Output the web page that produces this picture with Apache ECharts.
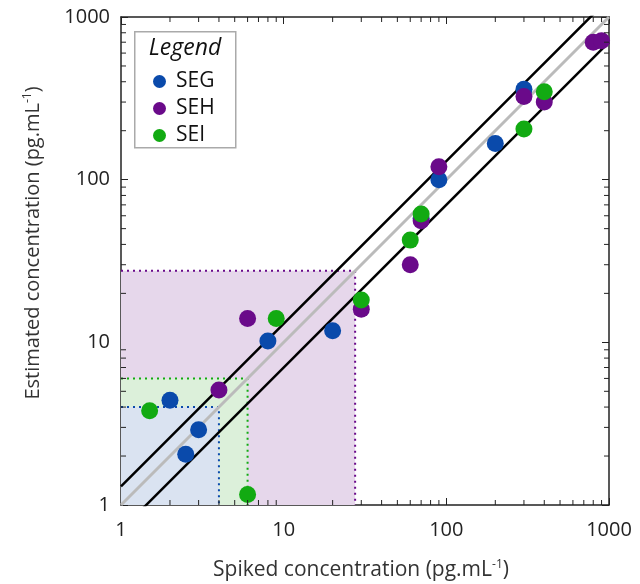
<!DOCTYPE html>
<html>
<head>
<meta charset="utf-8">
<script src="https://cdn.jsdelivr.net/npm/echarts@6/dist/echarts.min.js"></script>
<style>
  html, body { margin: 0; padding: 0; background: #fff; }
  #chart { width: 640px; height: 584px; }
</style>
</head>
<body>
<div id="chart"></div>
<script>
var chartDom = document.getElementById('chart');
var myChart = echarts.init(chartDom, null, { renderer: 'canvas' });
var option;

// spiked (x) vs estimated (y), pg/mL
var segData = [[2, 4.4], [2.5, 2.05], [3, 2.9], [8, 10.2], [20, 11.8], [70, 58], [90, 100], [200, 167], [300, 360]];
var sehData = [[4, 5.1], [6, 14], [30, 16], [60, 30], [70, 56], [90, 120], [300, 325], [400, 300], [800, 700], [900, 715]];
var seiData = [[1.5, 3.8], [6, 1.16], [9, 14], [30, 18.2], [60, 42.5], [70, 61.5], [300, 205], [400, 347]];

// reference lines: 1:1 and +/-30 %
var identityLine = [[1, 1], [1000, 1000]];
var upperLine = [[1, 1.3], [1000, 1300]];
var lowerLine = [[1, 0.7], [1000, 700]];

// shaded limit boxes
var segLimit = 4;
var seiLimit = 6;
var sehLimit = 27.5;

var minorTicks = [2, 3, 4, 5, 6, 7, 8, 9, 20, 30, 40, 50, 60, 70, 80, 90, 200, 300, 400, 500, 600, 700, 800, 900];

var FONT = 'Open Sans';
var cBlue = '#0a4aab', cPurple = '#6a0a8a', cGreen = '#12aa12';

function boxSeries(lim, fill, stroke, z) {
    return {
        type: 'line',
        data: [[1, lim], [lim, lim], [lim, 1]],
        symbol: 'none',
        silent: true,
        z: z,
        lineStyle: { color: stroke, width: 2, type: [2, 4] },
        markArea: {
            silent: true,
            itemStyle: { color: fill },
            data: [[{ coord: [1, 1] }, { coord: [lim, lim] }]]
        }
    };
}

function refLine(data, color, width) {
    return {
        type: 'line',
        data: data,
        symbol: 'none',
        silent: true,
        z: 5,
        lineStyle: { color: color, width: width }
    };
}

// minor ticks drawn as thin marks placed on each border
function minorSeries(side) {
    var data, size, offset;
    if (side === 'bottom') {
        data = minorTicks.map(function (v) { return [v, 1]; });
        size = [1, 5]; offset = [0, -2.5];
    } else if (side === 'top') {
        data = minorTicks.map(function (v) { return [v, 1000]; });
        size = [1, 5]; offset = [0, 2.5];
    } else if (side === 'left') {
        data = minorTicks.map(function (v) { return [1, v]; });
        size = [5, 1]; offset = [2.5, 0];
    } else {
        data = minorTicks.map(function (v) { return [1000, v]; });
        size = [5, 1]; offset = [-2.5, 0];
    }
    return {
        type: 'scatter',
        data: data,
        symbol: 'rect',
        symbolSize: size,
        symbolOffset: offset,
        clip: false,
        silent: true,
        z: 20,
        itemStyle: { color: '#222', opacity: 1 }
    };
}

function logAxis(pos, showLabel) {
    return {
        type: 'log',
        logBase: 10,
        min: 1,
        max: 1000,
        interval: 1,
        position: pos,
        splitLine: { show: false },
        axisLine: { show: true, onZero: false, lineStyle: { color: '#222', width: 1.5 } },
        axisTick: { show: true, inside: true, length: 7, lineStyle: { color: '#222', width: 1 } },
        axisLabel: {
            show: showLabel,
            fontFamily: FONT,
            fontSize: 20,
            color: '#222',
            margin: (pos === 'bottom') ? 15 : 11,
            formatter: function (v) { return String(Math.round(v)); }
        }
    };
}

option = {
    animation: false,
    grid: { left: 121, top: 17, width: 488, height: 488 },
    xAxis: [logAxis('bottom', true), logAxis('top', false)],
    yAxis: [logAxis('left', true), logAxis('right', false)],
    legend: {
        data: ['SEG', 'SEH', 'SEI'],
        orient: 'vertical',
        left: 148,
        top: 66,
        itemGap: 6,
        itemWidth: 13,
        itemHeight: 13,
        icon: 'circle',
        z: 30,
        textStyle: { fontFamily: FONT, fontSize: 21, lineHeight: 20, color: '#111', padding: [0, 0, 0, 5] }
    },
    graphic: [
        {
            type: 'rect',
            left: 134, top: 31,
            shape: { width: 101, height: 116 },
            style: { fill: '#fff', stroke: '#aaa', lineWidth: 1.5 },
            z: 1
        },
        {
            type: 'text',
            x: 185, y: 48,
            style: {
                text: 'Legend', font: 'italic 23px "Open Sans"', fill: '#111',
                align: 'center', verticalAlign: 'middle'
            },
            z: 2
        },
        {
            type: 'text',
            x: 361, y: 570,
            style: {
                text: 'Spiked concentration (pg.mL{sup|-1})',
                fontFamily: FONT, fontSize: 21, fill: '#333',
                align: 'center', verticalAlign: 'middle',
                rich: { sup: { fontFamily: FONT, fontSize: 12, fill: '#333', padding: [0, 0, 11, 0] } }
            }
        },
        {
            type: 'text',
            x: 33, y: 243,
            rotation: Math.PI / 2,
            style: {
                text: 'Estimated concentration (pg.mL{sup|-1})',
                fontFamily: FONT, fontSize: 20, fill: '#333',
                align: 'center', verticalAlign: 'middle',
                rich: { sup: { fontFamily: FONT, fontSize: 12, fill: '#333', padding: [0, 0, 11, 0] } }
            }
        }
    ],
    series: [
        boxSeries(sehLimit, '#e6d7eb', cPurple, 1),
        boxSeries(seiLimit, '#dcf0da', cGreen, 1),
        boxSeries(segLimit, '#dae3f1', cBlue, 1),
        refLine(identityLine, '#bbbbbb', 3),
        refLine(upperLine, '#000', 2.5),
        refLine(lowerLine, '#000', 2.5),
        minorSeries('bottom'),
        minorSeries('top'),
        minorSeries('left'),
        minorSeries('right'),
        {
            name: 'SEG', type: 'scatter', data: segData,
            symbolSize: 17, itemStyle: { color: cBlue, opacity: 1 }, z: 6
        },
        {
            name: 'SEH', type: 'scatter', data: sehData,
            symbolSize: 17, itemStyle: { color: cPurple, opacity: 1 }, z: 7
        },
        {
            name: 'SEI', type: 'scatter', data: seiData,
            symbolSize: 17, itemStyle: { color: cGreen, opacity: 1 }, z: 8
        }
    ]
};

option && myChart.setOption(option);
</script>
</body>
</html>
